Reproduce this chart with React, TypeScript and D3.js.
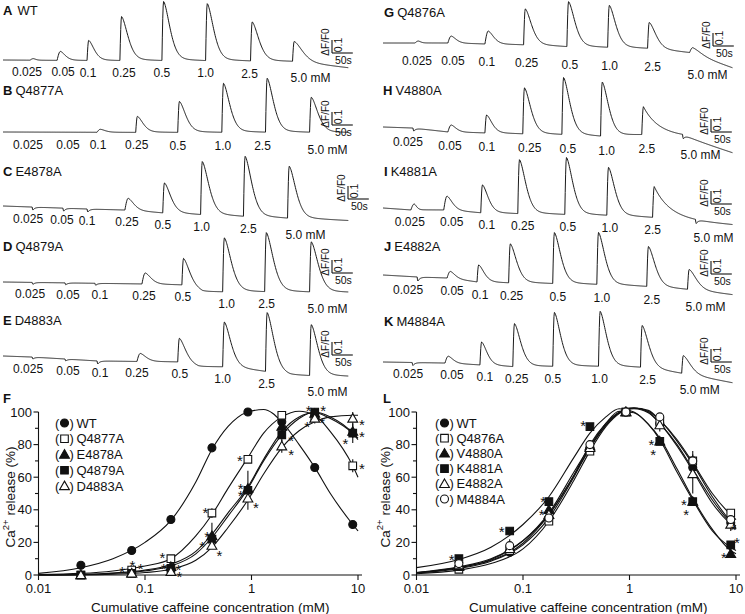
import React from "react";
import * as d3 from "d3";

const FONT = "'Liberation Sans', Arial, Helvetica, sans-serif";
const INK = "#111";

// ---------------- Trace panels (A–E, G–K) ----------------
const TRACE_LETTERS = ["A", "B", "C", "D", "E", "G", "H", "I", "J", "K"];
const TRACE_MUTANTS = ["WT", "Q4877A", "E4878A", "Q4879A", "D4883A", "Q4876A", "V4880A", "K4881A", "E4882A", "M4884A"];
const CAFFEINE_STEPS = ["0.025", "0.05", "0.1", "0.25", "0.5", "1.0", "2.5", "5.0 mM"];

// time of each caffeine addition (s from trace start)
const ADD_TIMES = [
  [65, 130, 202, 281, 382, 487, 595, 696],
  [60, 156, 226, 319, 420, 526, 631, 737],
  [70, 144, 202, 293, 384, 475, 578, 684],
  [70, 149, 221, 334, 430, 528, 629, 737],
  [70, 149, 226, 322, 420, 528, 631, 737],
  [77, 156, 245, 338, 442, 540, 636, 737],
  [72, 156, 245, 336, 430, 523, 622, 720],
  [67, 146, 235, 324, 437, 538, 648, 751],
  [82, 154, 226, 302, 408, 514, 634, 732],
  [70, 149, 233, 312, 408, 518, 619, 718],
];
// peak amplitude of each response (ΔF/F0)
const PEAK_AMPS = [
  [0.012, 0.069, 0.154, 0.338, 0.454, 0.438, 0.3, 0.154],
  [0, 0, 0.023, 0.123, 0.238, 0.377, 0.415, 0.269],
  [-0.023, -0.023, -0.023, 0.092, 0.231, 0.408, 0.462, 0.4],
  [-0.015, -0.015, -0.015, 0.085, 0.208, 0.415, 0.454, 0.385],
  [-0.015, -0.015, -0.023, 0.062, 0.185, 0.346, 0.454, 0.392],
  [0.015, 0.054, 0.1, 0.277, 0.346, 0.323, 0.2, 0.046],
  [-0.023, 0.054, 0.138, 0.354, 0.438, 0.415, 0.215, -0.031],
  [0.046, 0.108, 0.215, 0.415, 0.438, 0.369, 0.238, -0.031],
  [-0.031, 0.054, 0.131, 0.3, 0.392, 0.4, 0.308, 0.154],
  [-0.023, 0.054, 0.177, 0.331, 0.415, 0.423, 0.323, 0.138],
];
// decay time constant of each response (s)
const DECAY_TAUS = [
  [8, 16, 18, 21, 21, 21, 22, 28],
  [8, 8, 16, 19, 21, 21, 21, 22],
  [5, 5, 5, 19, 21, 22, 22, 22],
  [5, 5, 5, 19, 21, 23, 23, 23],
  [5, 5, 5, 19, 21, 22, 22, 22],
  [8, 16, 18, 21, 21, 21, 22, 28],
  [5, 16, 18, 21, 21, 21, 35, 5],
  [8, 18, 19, 21, 21, 21, 36, 5],
  [5, 16, 18, 21, 21, 21, 22, 24],
  [5, 16, 18, 21, 21, 21, 22, 24],
];
// baseline drift [time s, ΔF/F0]
const BASELINE_DRIFT = [
  [[0, 0], [696, -0.015], [830, -0.062]],
  [[0, 0], [830, -0.008]],
  [[0, 0], [70, -0.008], [202, -0.023], [293, -0.031], [384, -0.054], [475, -0.069], [578, -0.085], [684, -0.1], [830, -0.115]],
  [[0, 0], [334, -0.015], [430, -0.023], [480, -0.077], [830, -0.085]],
  [[0, 0], [70, -0.008], [149, -0.023], [226, -0.038], [420, -0.046], [470, -0.085], [528, -0.085], [631, -0.123], [690, -0.154], [830, -0.162]],
  [[0, 0], [156, 0], [245, -0.008], [338, -0.015], [442, -0.031], [540, -0.038], [636, -0.046], [737, -0.077], [840, -0.192]],
  [[0, 0], [72, -0.008], [156, -0.038], [245, -0.046], [336, -0.054], [430, -0.062], [523, -0.077], [622, -0.065], [720, -0.077], [840, -0.2]],
  [[0, 0], [67, -0.015], [146, -0.015], [235, -0.038], [324, -0.046], [437, -0.054], [538, -0.062], [648, -0.077], [751, -0.108], [840, -0.131]],
  [[0, 0], [82, -0.015], [154, -0.023], [226, -0.054], [302, -0.062], [408, -0.069], [514, -0.077], [634, -0.092], [732, -0.115], [840, -0.154]],
  [[0, 0], [149, -0.008], [233, -0.023], [312, -0.038], [518, -0.038], [619, -0.046], [718, -0.092], [840, -0.162]],
];
const TRACE_DURATION = [830, 830, 830, 830, 830, 840, 840, 840, 840, 840];
const SCALE_DF = 0.1;
const SCALE_T = 50;

// layout (positions only)
const TRACE_LAYOUT = [
  { x0: 3, base: 60, titleX: 3, titleY: 9.5, barX: 332, barY: 53, labelDy: 12 },
  { x0: 3, base: 132, titleX: 3, titleY: 89.5, barX: 332, barY: 125, labelDy: 13 },
  { x0: 3, base: 206, titleX: 3, titleY: 171, barX: 348, barY: 199, labelDy: 12 },
  { x0: 3, base: 282, titleX: 3, titleY: 245.5, barX: 332, barY: 273, labelDy: 12 },
  { x0: 3, base: 356, titleX: 3, titleY: 320, barX: 332, barY: 355, labelDy: 12 },
  { x0: 383, base: 43, titleX: 384, titleY: 12, barX: 713, barY: 46, labelDy: 18 },
  { x0: 383, base: 127, titleX: 383, titleY: 90, barX: 711, barY: 132, labelDy: 14 },
  { x0: 383, base: 208, titleX: 384, titleY: 171, barX: 711, barY: 204, labelDy: 12 },
  { x0: 383, base: 275, titleX: 384, titleY: 246, barX: 711, barY: 274, labelDy: 13 },
  { x0: 383, base: 362, titleX: 384, titleY: 320.5, barX: 711, barY: 362, labelDy: 12 },
];
// horizontal nudge of each concentration label relative to its addition (px)
const LABEL_SHIFT = [
  [-3, 6, 1, 4, 0, 0, -1, 0],
  [0, 0, 1, 1, 0, 1, -3, 0],
  [-4, -1, 0, 2, 0, 1, 5, 0],
  [-2, 3, 5, 2, 1, 4, 2, 0],
  [-4, 3, 3, 0, 2, 0, 1, 0],
  [2, 5, 2, 3, 3, 2, 5, 0],
  [-5, 2, 2, 7, 6, 6, 5, 0],
  [-1, 8, 6, 5, 3, 3, 0, 0],
  [-9, 5, 3, 3, 5, 5, 5, 0],
  [-4, 7, 5, 4, 0, 1, 7, 0],
];

// ---------------- Dose–response panels ----------------
const CUM_CONC = [0.025, 0.075, 0.175, 0.425, 0.925, 1.925, 3.925, 8.925];
const X_TICKS = [0.01, 0.1, 1, 10];
const X_TICK_LABELS = ["0.01", "0.1", "1", "10"];
const Y_TICKS = [0, 20, 40, 60, 80, 100];

// Panel F
const F_NAMES = ["WT", "Q4877A", "E4878A", "Q4879A", "D4883A"];
const F_WT = [6, 15, 34, 78, 100, 94, 66, 31];
const F_Q4877A = [0, 3, 10, 38, 71, 98, 97, 67];
const F_E4878A = [0, 1, 5, 24, 53, 91, 99, 88];
const F_Q4879A = [0, 1, 4, 22, 52, 86, 100, 87];
const F_D4883A = [0, 1, 2, 18, 47, 79, 96, 96];
const F_WT_SD = [0, 0, 0, 0, 0, 0, 0, 0];
const F_Q4877A_SD = [0, 0, 0, 3, 0, 0, 0, 4];
const F_E4878A_SD = [0, 0, 0, 8, 0, 0, 0, 4];
const F_Q4879A_SD = [0, 0, 0, 0, 12, 4, 0, 6];
const F_D4883A_SD = [0, 0, 0, 0, 0, 4, 3, 4];
const F_FIT_X = [0.01, 0.025, 0.05, 0.1, 0.175, 0.3, 0.425, 0.6, 0.925, 1.3, 1.925, 2.8, 3.925, 5.5, 8.925, 10];
const F_WT_FIT = [1, 4.5, 10, 20, 33.5, 57, 77, 91, 100, 101.5, 94, 80, 66, 50, 31, 27];
const F_Q4877A_FIT = [0.3, 1, 2.5, 5.5, 10, 24, 37, 53, 72, 87, 97, 100.5, 98, 88, 67, 60];
const F_E4878A_FIT = [0, 0.3, 1.2, 3, 6.5, 14.5, 25, 38, 54, 71, 88, 97, 99.5, 96, 87, 84];
const F_Q4879A_FIT = [0, 0.3, 1, 2.5, 5.5, 13, 23, 36, 53, 70, 86, 96, 100, 97, 87, 83];
const F_D4883A_FIT = [0, 0.1, 0.5, 1.5, 3.5, 9, 17, 29, 46, 62, 78, 88.5, 94, 97, 98, 98];
const F_STARS = [
  [0.061, 4], [0.076, 7.5], [0.091, 6], [0.146, 12.5], [0.15, 6], [0.206, 5], [0.21, 1],
  [0.37, 40], [0.384, 25.5], [0.344, 19.5], [0.5, 13.5], [0.78, 72], [0.79, 55], [0.79, 50.5],
  [1.1, 43], [2.36, 84.5], [2.36, 75.5], [3.45, 103], [4.7, 103], [3.33, 93], [4.6, 95.5],
  [10.9, 94], [10.9, 87], [7.6, 82.5], [10.9, 67],
];

// Panel L
const L_NAMES = ["WT", "Q4876A", "V4880A", "K4881A", "E4882A", "M4884A"];
const L_WT = [5, 14, 35, 78, 100, 93, 66, 32];
const L_Q4876A = [3.5, 15, 33, 76, 100, 94, 70, 38];
const L_V4880A = [5, 16, 40, 79, 100, 82, 45, 13];
const L_K4881A = [10, 27, 45, 91, 100, 82, 45, 18.5];
const L_E4882A = [6, 16, 37, 78, 100, 92, 62, 31];
const L_M4884A = [7, 18, 35, 80, 100, 97, 70, 34];
const L_WT_SD = [0, 0, 0, 0, 0, 0, 0, 0];
const L_Q4876A_SD = [0, 0, 0, 0, 0, 0, 6, 0];
const L_V4880A_SD = [0, 0, 0, 0, 0, 0, 0, 0];
const L_K4881A_SD = [0, 0, 0, 0, 0, 0, 0, 0];
const L_E4882A_SD = [0, 0, 0, 0, 0, 4, 12, 4];
const L_M4884A_SD = [0, 4, 0, 0, 0, 0, 0, 0];
const L_FIT_X = [0.01, 0.025, 0.05, 0.1, 0.175, 0.3, 0.425, 0.6, 0.8, 1.1, 1.5, 1.925, 2.8, 3.925, 6, 8.925, 10];
const L_WT_FIT = [1.2, 4, 8.5, 18.5, 35, 60, 78, 92, 99.5, 102.5, 100, 93, 80, 65, 46, 32, 29];
const L_Q4876A_FIT = [0.8, 3, 7, 16, 33, 58, 76, 91, 99, 102.5, 101, 95, 83, 69, 50, 37, 34];
const L_V4880A_FIT = [1.5, 4.5, 9.5, 21, 38, 63, 79, 93, 100.5, 99.5, 92.5, 84, 65, 47, 28, 15, 13];
const L_K4881A_FIT = [4.5, 9.5, 17, 31, 48, 72, 87, 97, 102, 100, 92.5, 83, 63, 46, 27, 17, 15];
const L_E4882A_FIT = [1.3, 4.5, 9, 19.5, 37, 61, 78, 92, 99.5, 102, 99.5, 93, 79, 64, 44, 31, 28];
const L_M4884A_FIT = [1.5, 5, 10, 21, 37, 61, 80, 93, 100, 102.5, 100.5, 95, 82, 68, 48, 33, 30];
const L_STARS = [
  [0.0214, 11.3], [0.063, 28.7], [0.155, 46.8], [0.15, 39], [0.368, 93.3], [1.61, 82], [1.67, 76],
  [3.25, 45], [3.4, 39], [10.2, 21.5], [7.7, 12.3], [9.4, 29.7],
];

type MarkerKind = { shape: "circle" | "square" | "triangle"; filled: boolean };
const F_MARKERS: MarkerKind[] = [
  { shape: "circle", filled: true },
  { shape: "square", filled: false },
  { shape: "triangle", filled: true },
  { shape: "square", filled: true },
  { shape: "triangle", filled: false },
];
const L_MARKERS: MarkerKind[] = [
  { shape: "circle", filled: true },
  { shape: "square", filled: false },
  { shape: "triangle", filled: true },
  { shape: "square", filled: true },
  { shape: "triangle", filled: false },
  { shape: "circle", filled: false },
];

const PLOTS = [
  {
    letter: "F", letterX: 3, x0: 38.5, x1: 358, axisEnd: 362, yTitleX: 10.5, legendX: 55, legendY0: 423, legendStep: 15.75,
    names: F_NAMES, markers: F_MARKERS,
    values: [F_WT, F_Q4877A, F_E4878A, F_Q4879A, F_D4883A],
    sds: [F_WT_SD, F_Q4877A_SD, F_E4878A_SD, F_Q4879A_SD, F_D4883A_SD],
    fitX: F_FIT_X, fits: [F_WT_FIT, F_Q4877A_FIT, F_E4878A_FIT, F_Q4879A_FIT, F_D4883A_FIT],
    stars: F_STARS,
  },
  {
    letter: "L", letterX: 383, x0: 416.5, x1: 736, axisEnd: 740, yTitleX: 385, legendX: 435, legendY0: 423, legendStep: 15.2,
    names: L_NAMES, markers: L_MARKERS,
    values: [L_WT, L_Q4876A, L_V4880A, L_K4881A, L_E4882A, L_M4884A],
    sds: [L_WT_SD, L_Q4876A_SD, L_V4880A_SD, L_K4881A_SD, L_E4882A_SD, L_M4884A_SD],
    fitX: L_FIT_X, fits: [L_WT_FIT, L_Q4876A_FIT, L_V4880A_FIT, L_K4881A_FIT, L_E4882A_FIT, L_M4884A_FIT],
    stars: L_STARS,
  },
];

function markerPath(m: MarkerKind) {
  const type = m.shape === "circle" ? d3.symbolCircle : m.shape === "square" ? d3.symbolSquare : d3.symbolTriangle;
  const size = m.shape === "circle" ? 50 : m.shape === "square" ? 58 : 42;
  return d3.symbol().type(type).size(size)() as string;
}

function Marker({ m, x, y }: { m: MarkerKind; x: number; y: number }) {
  const dy = m.shape === "triangle" ? 0.8 : 0;
  return (
    <path
      d={markerPath(m)}
      transform={`translate(${x},${y + dy})`}
      fill={m.filled ? INK : "#fff"}
      stroke={INK}
      strokeWidth={1.1}
    />
  );
}

// one response: smooth fast rise, rounded (stretched-exponential) decay
function responseShape(dt: number, a: number, tau: number) {
  if (dt < 0) return 0;
  const rise = a < 0 ? 2 : a < 0.12 ? 8 : 4;
  if (dt < rise) return a * Math.sin((Math.PI / 2) * (dt / rise));
  const d = dt - rise;
  const beta = tau > 30 || a < 0 ? 1 : 1.6;
  return a * (0.94 * Math.exp(-Math.pow(d / tau, beta)) + 0.06 * Math.exp(-d / (tau * 3)));
}

function TracePanel({ i }: { i: number }) {
  const L = TRACE_LAYOUT[i];
  const times = ADD_TIMES[i];
  const amps = PEAK_AMPS[i];
  const taus = DECAY_TAUS[i];
  const dr = BASELINE_DRIFT[i];
  const shift = LABEL_SHIFT[i];
  const tx = d3.scaleLinear().domain([0, 50]).range([L.x0, L.x0 + 20.8]);
  const ty = d3.scaleLinear().domain([0, 0.1]).range([L.base, L.base - 13]);
  const drift = d3.scaleLinear().domain(dr.map((d) => d[0])).range(dr.map((d) => d[1])).clamp(true);
  const pts: [number, number][] = d3.range(0, TRACE_DURATION[i] + 0.01, 1).map((t) => {
    let v = drift(t);
    times.forEach((t0, k) => {
      v += responseShape(t - t0, amps[k], taus[k]);
    });
    return [t, v];
  });
  const path = d3
    .line<[number, number]>()
    .x((d) => tx(d[0]))
    .y((d) => ty(d[1]))(pts) as string;
  const barH = ty(0) - ty(SCALE_DF);
  const barW = tx(SCALE_T) - tx(0);
  const bx = L.barX;
  const by = L.barY;
  return (
    <g>
      <text x={L.titleX} y={L.titleY} dominantBaseline="central" fontSize={13}>
        <tspan fontWeight="bold">{TRACE_LETTERS[i]}</tspan>
        <tspan dx={i === 0 ? 5 : 3}>{TRACE_MUTANTS[i]}</tspan>
      </text>
      <path d={path} fill="none" stroke="#1a1a1a" strokeWidth={1} strokeLinejoin="round" />
      {CAFFEINE_STEPS.map((lab, k) => {
        const last = k === CAFFEINE_STEPS.length - 1;
        const x = tx(times[k]) + shift[k];
        const y = ty(drift(times[k])) + L.labelDy + (last ? 4 : 0);
        return (
          <text
            key={k}
            x={last ? x - 2 : x}
            y={y}
            fontSize={12}
            textAnchor={last ? "start" : "middle"}
            dominantBaseline="central"
          >
            {lab}
          </text>
        );
      })}
      <line x1={bx} y1={by} x2={bx} y2={by - barH} stroke={INK} strokeWidth={1.1} />
      <line x1={bx} y1={by} x2={bx + barW} y2={by} stroke={INK} strokeWidth={1.1} />
      <text
        transform={`translate(${bx - 6.5},${by - 11}) rotate(-90)`}
        fontSize={10}
        textAnchor="middle"
        dominantBaseline="central"
      >
        ΔF/F0
      </text>
      <text
        transform={`translate(${bx + 6},${by - 8}) rotate(-90)`}
        fontSize={10.5}
        textAnchor="middle"
        dominantBaseline="central"
      >
        {SCALE_DF}
      </text>
      <text x={bx + barW / 2 + 1} y={by + 7} fontSize={10.5} textAnchor="middle" dominantBaseline="central">
        {`${SCALE_T}s`}
      </text>
    </g>
  );
}

function DosePlot({ p }: { p: (typeof PLOTS)[number] }) {
  const x = d3.scaleLog().domain([0.01, 10]).range([p.x0, p.x1]);
  const y = d3.scaleLinear().domain([0, 100]).range([575, 412]);
  const line = d3
    .line<[number, number]>()
    .x((d) => x(d[0]))
    .y((d) => y(d[1]))
    .curve(d3.curveMonotoneX);
  const minor = d3.range(10, 100, 20);
  const yAxisX = p.x0;
  const cx = (p.x0 + p.axisEnd) / 2;
  return (
    <g>
      <text x={p.letterX} y={398} fontSize={13} fontWeight="bold" dominantBaseline="central">
        {p.letter}
      </text>
      <line x1={yAxisX} y1={y(0)} x2={yAxisX} y2={y(100)} stroke={INK} strokeWidth={1.1} />
      <line x1={yAxisX} y1={y(0)} x2={p.axisEnd} y2={y(0)} stroke={INK} strokeWidth={1.1} />
      {Y_TICKS.map((t) => (
        <g key={t}>
          <line x1={yAxisX - 5} x2={yAxisX} y1={y(t)} y2={y(t)} stroke={INK} strokeWidth={1.1} />
          <text x={yAxisX - 6.5} y={y(t)} fontSize={13} textAnchor="end" dominantBaseline="central">
            {t}
          </text>
        </g>
      ))}
      {minor.map((t) => (
        <line key={t} x1={yAxisX - 3.5} x2={yAxisX} y1={y(t)} y2={y(t)} stroke={INK} strokeWidth={1.1} />
      ))}
      {X_TICKS.map((t, k) => (
        <g key={t}>
          <line x1={x(t)} x2={x(t)} y1={y(0)} y2={y(0) + 5} stroke={INK} strokeWidth={1.1} />
          <text x={x(t)} y={y(0) + 13} fontSize={13} textAnchor="middle" dominantBaseline="central">
            {X_TICK_LABELS[k]}
          </text>
        </g>
      ))}
      <text
        transform={`translate(${p.yTitleX},${497}) rotate(-90)`}
        fontSize={13.5}
        textAnchor="middle"
        dominantBaseline="central"
      >
        Ca<tspan baselineShift="super" fontSize={9.5}>2+</tspan> release (%)
      </text>
      <text x={cx + 10} y={607} fontSize={13.5} textAnchor="middle" dominantBaseline="central">
        Cumulative caffeine concentration (mM)
      </text>
      {p.fits.map((f, s) => (
        <path
          key={s}
          d={line(p.fitX.map((c, k) => [c, f[k]] as [number, number])) as string}
          fill="none"
          stroke={INK}
          strokeWidth={1.1}
        />
      ))}
      {p.sds.map((sd, s) =>
        sd.map((e, k) =>
          e > 0 ? (
            <line
              key={`${s}-${k}`}
              x1={x(CUM_CONC[k])}
              x2={x(CUM_CONC[k])}
              y1={y(p.values[s][k] - e)}
              y2={y(p.values[s][k] + e)}
              stroke={INK}
              strokeWidth={1.1}
            />
          ) : null
        )
      )}
      {p.values.map((vals, s) =>
        vals.map((v, k) => <Marker key={`${s}-${k}`} m={p.markers[s]} x={x(CUM_CONC[k])} y={y(v)} />)
      )}
      {p.stars.map((st, k) => (
        <text key={k} x={x(st[0])} y={y(st[1]) + 8.5} fontSize={15} textAnchor="middle">
          *
        </text>
      ))}
      {p.names.map((n, s) => {
        const ly = p.legendY0 + s * p.legendStep;
        const lx = p.legendX;
        return (
          <g key={n}>
            <text x={lx} y={ly} fontSize={13} dominantBaseline="central">
              (
            </text>
            <Marker m={p.markers[s]} x={lx + 9.5} y={ly} />
            <text x={lx + 14.5} y={ly} fontSize={13} dominantBaseline="central">
              )
            </text>
            <text x={lx + 21.5} y={ly} fontSize={13} dominantBaseline="central">
              {n}
            </text>
          </g>
        );
      })}
    </g>
  );
}

export default function App() {
  return (
    <svg
      width={745}
      height={614}
      viewBox="0 0 745 614"
      style={{ position: "absolute", left: 0, top: 0, background: "#fff" }}
      fontFamily={FONT}
      fill={INK}
    >
      <rect x={0} y={0} width={745} height={614} fill="#fff" />
      {TRACE_LETTERS.map((_, i) => (
        <TracePanel key={i} i={i} />
      ))}
      {PLOTS.map((p) => (
        <DosePlot key={p.letter} p={p} />
      ))}
    </svg>
  );
}
